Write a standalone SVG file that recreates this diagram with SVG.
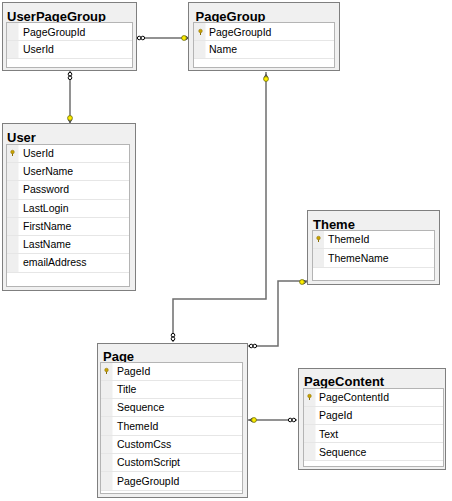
<svg xmlns="http://www.w3.org/2000/svg" width="452" height="501" viewBox="0 0 452 501">
<style>
.frame{fill:#f0f0f0;stroke:#7f7f7f;stroke-width:1}
.inner{fill:#ffffff;stroke:#b4b4b4;stroke-width:1}
.kcol{fill:#efefef;stroke:none}
.sep{stroke:#e6e6e6;stroke-width:1}
.title{font-family:"Liberation Sans",Arial,sans-serif;font-weight:bold;font-size:13px;fill:#000}
.fld{font-family:"Liberation Sans",Arial,sans-serif;font-size:10.5px;fill:#000}
.conn{fill:none;stroke:#6e6e6e;stroke-width:1.5}
.inf{fill:#fff;stroke:#000;stroke-width:1}
.key{fill:#ffee00;stroke:#6b6b00;stroke-width:0.8}
.prong{fill:none;stroke:#444;stroke-width:1}
.pk{fill:#c9a400;stroke:#8a6d00;stroke-width:0.5}
</style>
<defs>
<g id="pkey"><circle cx="0" cy="-1.5" r="1.8" class="pk"/><line x1="0" y1="0" x2="0" y2="2.5" stroke="#8a6d00" stroke-width="1"/></g>
<g id="infH"><circle cx="-1.8" cy="0" r="1.8" class="inf"/><circle cx="1.8" cy="0" r="1.8" class="inf"/></g>
<g id="infV"><circle cx="0" cy="-1.8" r="1.8" class="inf"/><circle cx="0" cy="1.8" r="1.8" class="inf"/></g>
<g id="keyR"><path d="M1.5 -2 L4.5 0 L1.5 2" class="prong"/><circle cx="0" cy="0" r="2.4" class="key"/></g>
<g id="keyL"><path d="M-1.5 -2 L-4.5 0 L-1.5 2" class="prong"/><circle cx="0" cy="0" r="2.4" class="key"/></g>
<g id="keyD"><path d="M-2 1.5 L0 4.5 L2 1.5" class="prong"/><circle cx="0" cy="0" r="2.4" class="key"/></g>
<g id="keyU"><path d="M-2 -1.5 L0 -4.5 L2 -1.5" class="prong"/><circle cx="0" cy="0" r="2.4" class="key"/></g>
</defs>

<g id="connectors">
<path class="conn" d="M137 38 H189"/>
<path class="conn" d="M70 71 V123"/>
<path class="conn" d="M266 72 V299 H173 V342"/>
<path class="conn" d="M248 346 H278 V281 H307"/>
<path class="conn" d="M248 420 H297"/>
<use href="#infH" x="141" y="38"/>
<use href="#keyR" x="184" y="38"/>
<use href="#infV" x="70" y="76"/>
<use href="#keyD" x="70" y="118"/>
<use href="#keyU" x="266" y="79"/>
<use href="#infV" x="173" y="337"/>
<use href="#infH" x="253" y="346"/>
<use href="#keyR" x="302" y="282"/>
<use href="#keyL" x="254" y="420"/>
<use href="#infH" x="292" y="420"/>
</g>

<g id="UserPageGroup">
<rect class="frame" x="2.5" y="2.5" width="134" height="68"/>
<text class="title" x="7" y="20.5">UserPageGroup</text>
<rect class="inner" x="6.5" y="22.5" width="126" height="45"/>
<rect class="kcol" x="7" y="23" width="11.5" height="35.5"/>
<line class="sep" x1="7" y1="40.5" x2="132" y2="40.5"/>
<line class="sep" x1="7" y1="58.5" x2="132" y2="58.5"/>
<text class="fld" x="23" y="35.5">PageGroupId</text>
<text class="fld" x="23" y="53">UserId</text>
</g>

<g id="PageGroup">
<rect class="frame" x="188.5" y="2.5" width="151" height="68"/>
<text class="title" x="195.5" y="20.5">PageGroup</text>
<rect class="inner" x="193.5" y="22.5" width="141" height="45"/>
<rect class="kcol" x="194" y="23" width="11.5" height="35.5"/>
<line class="sep" x1="194" y1="40.5" x2="334" y2="40.5"/>
<line class="sep" x1="194" y1="58.5" x2="334" y2="58.5"/>
<use href="#pkey" x="200.5" y="32.5"/>
<text class="fld" x="209" y="35.5">PageGroupId</text>
<text class="fld" x="209" y="53">Name</text>
</g>

<g id="User">
<rect class="frame" x="2.5" y="123.5" width="133" height="167"/>
<text class="title" x="7" y="141.5">User</text>
<rect class="inner" x="6.5" y="144.5" width="123" height="142"/>
<rect class="kcol" x="7" y="145" width="11.5" height="127.5"/>
<line class="sep" x1="7" y1="162.5" x2="129" y2="162.5"/>
<line class="sep" x1="7" y1="180.5" x2="129" y2="180.5"/>
<line class="sep" x1="7" y1="199.5" x2="129" y2="199.5"/>
<line class="sep" x1="7" y1="217.5" x2="129" y2="217.5"/>
<line class="sep" x1="7" y1="235.5" x2="129" y2="235.5"/>
<line class="sep" x1="7" y1="253.5" x2="129" y2="253.5"/>
<line class="sep" x1="7" y1="272.5" x2="129" y2="272.5"/>
<use href="#pkey" x="12.5" y="153.5"/>
<text class="fld" x="23" y="157">UserId</text>
<text class="fld" x="23" y="175">UserName</text>
<text class="fld" x="23" y="193">Password</text>
<text class="fld" x="23" y="211.5">LastLogin</text>
<text class="fld" x="23" y="229.5">FirstName</text>
<text class="fld" x="23" y="247.5">LastName</text>
<text class="fld" x="23" y="266">emailAddress</text>
</g>

<g id="Theme">
<rect class="frame" x="307.5" y="210.5" width="132" height="74"/>
<text class="title" x="313" y="228.5">Theme</text>
<rect class="inner" x="312.5" y="230.5" width="122" height="50"/>
<rect class="kcol" x="313" y="231" width="11" height="37"/>
<line class="sep" x1="313" y1="248.5" x2="434" y2="248.5"/>
<line class="sep" x1="313" y1="267.5" x2="434" y2="267.5"/>
<use href="#pkey" x="318.5" y="239.5"/>
<text class="fld" x="328" y="243">ThemeId</text>
<text class="fld" x="328" y="261.5">ThemeName</text>
</g>

<g id="Page">
<rect class="frame" x="97.5" y="343.5" width="150" height="154"/>
<text class="title" x="103" y="361">Page</text>
<rect class="inner" x="100.5" y="362.5" width="142" height="131"/>
<rect class="kcol" x="101" y="363" width="11.5" height="127"/>
<line class="sep" x1="101" y1="380.5" x2="242" y2="380.5"/>
<line class="sep" x1="101" y1="398.5" x2="242" y2="398.5"/>
<line class="sep" x1="101" y1="416.5" x2="242" y2="416.5"/>
<line class="sep" x1="101" y1="435.5" x2="242" y2="435.5"/>
<line class="sep" x1="101" y1="453.5" x2="242" y2="453.5"/>
<line class="sep" x1="101" y1="471.5" x2="242" y2="471.5"/>
<line class="sep" x1="101" y1="490.5" x2="242" y2="490.5"/>
<use href="#pkey" x="106.5" y="371.5"/>
<text class="fld" x="117" y="375">PageId</text>
<text class="fld" x="117" y="393">Title</text>
<text class="fld" x="117" y="411">Sequence</text>
<text class="fld" x="117" y="429.5">ThemeId</text>
<text class="fld" x="117" y="448">CustomCss</text>
<text class="fld" x="117" y="466">CustomScript</text>
<text class="fld" x="117" y="484.5">PageGroupId</text>
</g>

<g id="PageContent">
<rect class="frame" x="298.5" y="368.5" width="147" height="101"/>
<text class="title" x="304" y="386">PageContent</text>
<rect class="inner" x="303.5" y="388.5" width="140" height="78"/>
<rect class="kcol" x="304" y="389" width="11.5" height="72"/>
<line class="sep" x1="304" y1="406.5" x2="443" y2="406.5"/>
<line class="sep" x1="304" y1="424.5" x2="443" y2="424.5"/>
<line class="sep" x1="304" y1="442.5" x2="443" y2="442.5"/>
<line class="sep" x1="304" y1="460.5" x2="443" y2="460.5"/>
<use href="#pkey" x="309.5" y="397.5"/>
<text class="fld" x="319" y="401">PageContentId</text>
<text class="fld" x="319" y="419">PageId</text>
<text class="fld" x="319" y="437.5">Text</text>
<text class="fld" x="319" y="455.5">Sequence</text>
</g>
</svg>
